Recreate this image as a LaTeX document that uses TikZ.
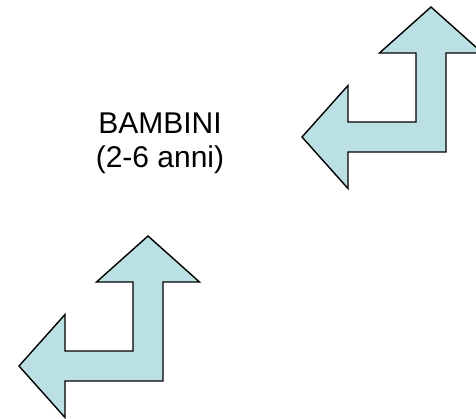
\documentclass[tikz,border=0pt]{standalone}
\usepackage{fontspec}
\setmainfont{Liberation Sans}
\definecolor{arrowfill}{HTML}{BBE0E3}
\tikzset{
  arrowshape/.style={fill=arrowfill, draw=black, line width=1.4pt, line join=miter},
  labeltext/.style={align=center, font=\fontsize{30}{34}\selectfont, inner sep=0pt},
  pics/bentarr/.style={code={
    \draw[arrowshape] (0,0) -- (0,-99) -- (36.5,-99) -- (-15,-145) -- (-66.5,-99)
      -- (-30,-99) -- (-30,-30) -- (-98,-30) -- (-98,-66.5) -- (-144,-15)
      -- (-98,36.5) -- (-98,0) -- cycle;
  }}
}
\begin{document}
\begin{tikzpicture}[x=1pt,y=-1pt]
\useasboundingbox (0,0) rectangle (476,419);
\clip (0,0) rectangle (476,419);
\pic at (446,152) {bentarr};
\pic at (163,381) {bentarr};
\node[labeltext] (lbl) at (160,143) {BAMBINI\\(2-6 anni)};
\end{tikzpicture}
\end{document}
